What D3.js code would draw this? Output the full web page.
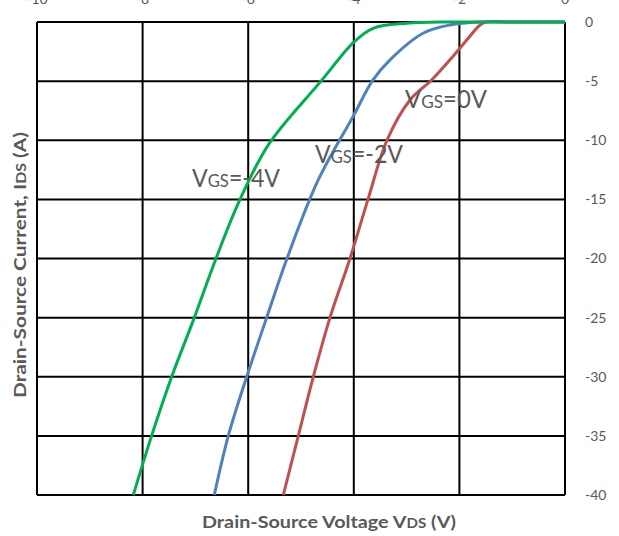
<!DOCTYPE html>
<html>
<head>
<meta charset="utf-8">
<script src="https://cdn.jsdelivr.net/npm/d3@7"></script>
<style>
  body { margin: 0; background: #fff; }
  svg { display: block; font-family: Lato, "Open Sans", sans-serif; }
</style>
</head>
<body>
<div id="chart"></div>
<script>
// curves: drain-source voltage (V) vs current (A)
const vgs0V = [-5.335, -5.051, -4.767, -4.451, -4.072, -3.731, -3.371, -2.936, -2.525, -2.178, -1.856, -1.61, -1.496, -1.0, 0];
const vgs0I = [-40, -35, -30, -25, -20, -15, -10, -6.6, -4.9, -3.2, -1.5, -0.25, 0, 0, 0];

const vgs2V = [-6.642, -6.377, -6.028, -5.65, -5.265, -4.678, -4.015, -3.636, -3.314, -2.689, -2.178, -1.61, -1.0, 0];
const vgs2I = [-40, -35, -30, -25, -20, -13.4, -8, -4.9, -3.2, -0.95, -0.25, 0, 0, 0];

const vgs4V = [-8.176, -7.83, -7.449, -7.02, -6.61, -6.155, -5.606, -4.621, -4.0, -3.636, -2.992, -2.178, -1.0, 0];
const vgs4I = [-40, -35, -30, -25, -20, -15, -10.3, -5, -1.7, -0.53, -0.11, 0, 0, 0];

const xTicks = [-10, -8, -6, -4, -2, 0];
const yTicks = [0, -5, -10, -15, -20, -25, -30, -35, -40];

const series = [
  { name: "0", v: vgs0V, i: vgs0I, color: "#C0504D" },
  { name: "-2", v: vgs2V, i: vgs2I, color: "#4F81BD" },
  { name: "-4", v: vgs4V, i: vgs4I, color: "#00B050" }
];

const W = 619, H = 536;
const m = { left: 37, right: 54, top: 22, bottom: 41 };
const textColor = "#595959";

const svg = d3.select("#chart").append("svg")
  .attr("width", W)
  .attr("height", H);

const x = d3.scaleLinear().domain([-10, 0]).range([m.left, W - m.right]);
const y = d3.scaleLinear().domain([-40, 0]).range([H - m.bottom, m.top]);

// grid
const grid = svg.append("g").attr("stroke", "#000").attr("stroke-width", 2);
grid.selectAll(".vx").data(xTicks).enter().append("line")
  .attr("x1", d => x(d)).attr("x2", d => x(d))
  .attr("y1", y(0)).attr("y2", y(-40));
grid.selectAll(".hy").data(yTicks).enter().append("line")
  .attr("x1", x(-10)).attr("x2", x(0))
  .attr("y1", d => y(d)).attr("y2", d => y(d));

// top tick labels (cut off by the page edge, as in the original)
svg.append("g").selectAll("text").data(xTicks).enter().append("text")
  .attr("x", d => x(d))
  .attr("y", 4)
  .attr("text-anchor", "middle")
  .attr("fill", textColor)
  .style("font-size", "14px")
  .text(d => d);

// right tick labels
svg.append("g").selectAll("text").data(yTicks).enter().append("text")
  .attr("x", 585)
  .attr("y", d => y(d))
  .attr("dy", "0.35em")
  .attr("fill", textColor)
  .style("font-size", "14px")
  .text(d => d);

// curves
const line = d3.line()
  .x(d => x(d[0]))
  .y(d => y(d[1]))
  .curve(d3.curveCatmullRom.alpha(0.5));

svg.append("g").selectAll("path").data(series).enter().append("path")
  .attr("d", s => line(s.v.map((v, k) => [v, s.i[k]])))
  .attr("fill", "none")
  .attr("stroke", s => s.color)
  .attr("stroke-width", 3)
  .attr("stroke-linejoin", "round");

// curve labels
const labels = [
  { text: "0", x: 405, y: 108, w: 82 },
  { text: "-2", x: 315, y: 163, w: 88 },
  { text: "-4", x: 192, y: 187, w: 88 }
];
labels.forEach(l => {
  const t = svg.append("text")
    .attr("x", l.x).attr("y", l.y)
    .attr("fill", textColor)
    .attr("textLength", l.w)
    .attr("lengthAdjust", "spacingAndGlyphs")
    .style("font-size", "25px");
  t.append("tspan").text("V");
  t.append("tspan").style("font-size", "18px").text("GS");
  t.append("tspan").text("=" + l.text + "V");
});

// axis titles
const xt = svg.append("text")
  .attr("x", 202).attr("y", 528)
  .attr("fill", textColor)
  .attr("font-weight", "bold")
  .attr("textLength", 254)
  .attr("lengthAdjust", "spacingAndGlyphs")
  .style("font-size", "17px");
xt.append("tspan").text("Drain-Source Voltage V");
xt.append("tspan").style("font-size", "13px").text("DS");
xt.append("tspan").text(" (V)");

const yt = svg.append("text")
  .attr("transform", "translate(26,398) rotate(-90)")
  .attr("fill", textColor)
  .attr("font-weight", "bold")
  .attr("textLength", 266)
  .attr("lengthAdjust", "spacingAndGlyphs")
  .style("font-size", "17px");
yt.append("tspan").text("Drain-Source Current, I");
yt.append("tspan").style("font-size", "13px").text("DS");
yt.append("tspan").text(" (A)");
</script>
</body>
</html>
